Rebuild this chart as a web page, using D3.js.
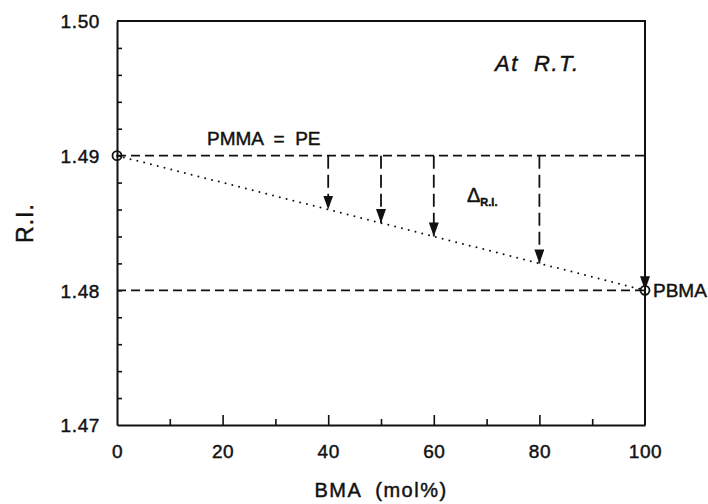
<!DOCTYPE html>
<html>
<head>
  <title>R.I. vs BMA content</title>
  <script src="https://d3js.org/d3.v7.min.js"></script>
  <style>
    body { margin: 0; background: #fff; }
    text { font-family: "Liberation Sans", Arial, sans-serif; fill: #111; stroke: #111; stroke-width: 0.45; }
  </style>
</head>
<body>

<div id="chart"></div>

<script>
// Data
const endComposition = [0, 100];          // BMA mol%
const endRI = [1.49, 1.48];               // PMMA, PBMA
const endLabels = ["", "PBMA"];
const arrowComposition = [40, 50, 60, 80, 100];
const arrowRI = [1.486, 1.485, 1.484, 1.482, 1.480];
const refLines = [1.49, 1.48];
const xTicks = [0, 20, 40, 60, 80, 100];
const yTicks = [1.47, 1.48, 1.49, 1.50];

const width = 708;
const height = 504;
const margin = { top: 21, right: 63, bottom: 79, left: 117 };

const svg = d3.select("#chart")
  .append("svg")
  .attr("width", width)
  .attr("height", height);

const x = d3.scaleLinear()
  .domain([0, 100])
  .range([margin.left, width - margin.right]);

const y = d3.scaleLinear()
  .domain([1.47, 1.50])
  .range([height - margin.bottom, margin.top]);

// arrowhead marker, tip at the end of the line
svg.append("defs").append("marker")
  .attr("id", "head")
  .attr("viewBox", "0 0 14 10")
  .attr("refX", 14)
  .attr("refY", 5)
  .attr("markerWidth", 14)
  .attr("markerHeight", 10)
  .attr("markerUnits", "userSpaceOnUse")
  .attr("orient", "auto")
  .append("path")
  .attr("d", "M0,0 L14,5 L0,10 Z")
  .attr("fill", "#111");

// x axis: major ticks every 20, minor every 10, pointing inward
const xAxis = d3.axisBottom(x)
  .tickValues(xTicks)
  .tickSizeInner(-10)
  .tickSizeOuter(0)
  .tickPadding(20)
  .tickFormat(d3.format("d"));

const gx = svg.append("g")
  .attr("transform", `translate(0,${y(1.47)})`)
  .call(xAxis);

gx.selectAll(".tick")
  .filter(d => d === 0 || d === 100)
  .select("line").remove();

svg.append("g")
  .attr("transform", `translate(0,${y(1.47)})`)
  .call(d3.axisBottom(x).tickValues(d3.range(10, 100, 20)).tickSizeInner(-6).tickSizeOuter(0).tickFormat(""))
  .call(g => g.select(".domain").remove());

// y axis: labels at 0.01, minor ticks every 0.002
const yAxis = d3.axisLeft(y)
  .tickValues(yTicks)
  .tickSize(0)
  .tickPadding(17)
  .tickFormat(d3.format(".2f"));

const gy = svg.append("g")
  .attr("transform", `translate(${x(0)},0)`)
  .call(yAxis);

svg.append("g")
  .attr("transform", `translate(${x(0)},0)`)
  .call(d3.axisLeft(y).tickValues(d3.range(1.472, 1.4995, 0.002)).tickSizeInner(-5).tickSizeOuter(0).tickFormat(""))
  .call(g => g.select(".domain").remove());

[gx, gy].forEach(g => {
  g.select(".domain").attr("stroke", "#111").attr("stroke-width", 2);
  g.selectAll(".tick text")
    .attr("font-size", 19)
    .attr("letter-spacing", 0.6)
    .attr("font-family", "Liberation Sans, Arial, sans-serif")
    .attr("fill", "#111");
});
svg.selectAll(".tick line").attr("stroke", "#111").attr("stroke-width", 1.6);
gy.selectAll(".tick text").attr("dy", "0.36em");

// frame: top and right
svg.append("path")
  .attr("d", `M${x(0)},${y(1.50)} H${x(100)} V${y(1.47)}`)
  .attr("fill", "none")
  .attr("stroke", "#111")
  .attr("stroke-width", 2);

// dashed reference lines
svg.selectAll(".ref")
  .data(refLines)
  .join("line")
  .attr("class", "ref")
  .attr("x1", x(0))
  .attr("x2", x(100))
  .attr("y1", d => y(d))
  .attr("y2", d => y(d))
  .attr("stroke", "#111")
  .attr("stroke-width", 1.6)
  .attr("stroke-dasharray", "9,5");

// dotted linear mixing line
const line = d3.line()
  .x(d => x(d[0]))
  .y(d => y(d[1]));

svg.append("path")
  .datum(d3.zip(endComposition, endRI))
  .attr("d", line)
  .attr("fill", "none")
  .attr("stroke", "#111")
  .attr("stroke-width", 2)
  .attr("stroke-linecap", "round")
  .attr("stroke-dasharray", "0,7");

// arrows (Δ R.I.)
svg.selectAll(".arrow")
  .data(d3.zip(arrowComposition, arrowRI))
  .join("line")
  .attr("class", "arrow")
  .attr("x1", d => x(d[0]))
  .attr("x2", d => x(d[0]))
  .attr("y1", y(1.49))
  .attr("y2", d => y(d[1]))
  .attr("stroke", "#111")
  .attr("stroke-width", 1.8)
  .attr("stroke-dasharray", "13,6")
  .attr("marker-end", "url(#head)");

// end point circles
svg.selectAll(".end")
  .data(d3.zip(endComposition, endRI))
  .join("circle")
  .attr("class", "end")
  .attr("cx", d => x(d[0]))
  .attr("cy", d => y(d[1]))
  .attr("r", 4.5)
  .attr("fill", "none")
  .attr("stroke", "#111")
  .attr("stroke-width", 1.8);

svg.append("text")
  .attr("x", x(100) + 8)
  .attr("y", y(1.48) + 7)
  .attr("font-size", 19)
  .text(endLabels[1]);

// annotations
svg.append("text")
  .attr("x", 207)
  .attr("y", 145)
  .attr("font-size", 19)
  .attr("xml:space", "preserve")
  .text("PMMA  =  PE");

svg.append("text")
  .attr("x", 495)
  .attr("y", 71)
  .attr("font-size", 22)
  .attr("font-style", "italic")
  .attr("letter-spacing", 1.5)
  .attr("stroke-width", 0.7)
  .attr("xml:space", "preserve")
  .text("At  R.T.");

const delta = svg.append("text")
  .attr("x", 467)
  .attr("y", 202);
delta.append("tspan").attr("font-size", 20).text("Δ");
delta.append("tspan").attr("font-size", 11).attr("font-weight", "bold").attr("dy", 4).text("R.I.");

// axis titles
svg.append("text")
  .attr("x", (x(0) + x(100)) / 2)
  .attr("y", 497)
  .attr("text-anchor", "middle")
  .attr("font-size", 20)
  .attr("letter-spacing", 1.5)
  .attr("xml:space", "preserve")
  .text("BMA  (mol%)");

svg.append("text")
  .attr("transform", `translate(33,${(y(1.47) + y(1.50)) / 2}) rotate(-90)`)
  .attr("text-anchor", "middle")
  .attr("font-size", 23)
  .attr("letter-spacing", 1)
  .text("R.I.");
</script>

</body>
</html>
